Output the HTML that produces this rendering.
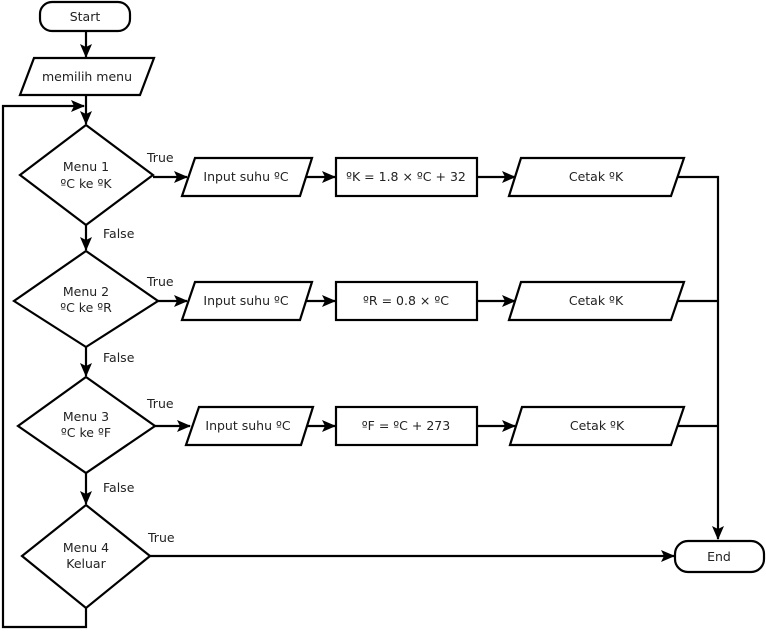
<!DOCTYPE html>
<html><head><meta charset="utf-8"><style>
html,body{margin:0;padding:0;background:#fff}
svg{display:block}
</style></head><body>
<svg width="766" height="632" viewBox="0 0 766 632" xmlns="http://www.w3.org/2000/svg">
<defs><marker id="a" markerWidth="14" markerHeight="12" refX="13" refY="6" orient="auto" markerUnits="userSpaceOnUse"><path d="M0,0 L14,6 L0,12 L3,6 Z" fill="#000" stroke="none"/></marker></defs>
<g fill="none" stroke="#000" stroke-width="2.2" style="stroke-width:2.2px">
<rect x="40" y="2" width="90" height="29" rx="12"/>
<line x1="86" y1="31" x2="86" y2="57" marker-end="url(#a)"/>
<polygon points="20,95 34,58 154,58 140,95" fill="#fff"/>
<line x1="86" y1="95" x2="86" y2="124" marker-end="url(#a)"/>
<polyline points="86,608 86,627 3,627 3,106 84,106" marker-end="url(#a)"/>
<polygon points="86,125 153,175 86,225 20,175"/>
<polygon points="86,251 158,301 86,347 14,301"/>
<polygon points="86,377 155,426 86,473 18,426"/>
<polygon points="86,505 150,556 86,608 22,556"/>
<line x1="86" y1="225" x2="86" y2="250" marker-end="url(#a)"/>
<line x1="86" y1="347" x2="86" y2="376" marker-end="url(#a)"/>
<line x1="86" y1="473" x2="86" y2="504" marker-end="url(#a)"/>
<line x1="153" y1="177" x2="187" y2="177" marker-end="url(#a)"/>
<polygon points="182,196 195,158 312,158 300,196"/>
<line x1="306" y1="177" x2="335" y2="177" marker-end="url(#a)"/>
<rect x="336" y="158" width="141" height="38"/>
<line x1="477" y1="177" x2="515" y2="177" marker-end="url(#a)"/>
<polygon points="509,196 521,158 684,158 671,196"/>
<line x1="158" y1="301" x2="187" y2="301" marker-end="url(#a)"/>
<polygon points="182,320 195,282 312,282 300,320"/>
<line x1="306" y1="301" x2="335" y2="301" marker-end="url(#a)"/>
<rect x="336" y="282" width="141" height="38"/>
<line x1="477" y1="301" x2="515" y2="301" marker-end="url(#a)"/>
<polygon points="509,320 521,282 684,282 671,320"/>
<line x1="155" y1="426" x2="190" y2="426" marker-end="url(#a)"/>
<polygon points="186,445 199,407 313,407 301,445"/>
<line x1="307" y1="426" x2="335" y2="426" marker-end="url(#a)"/>
<rect x="336" y="407" width="141" height="38"/>
<line x1="477" y1="426" x2="515" y2="426" marker-end="url(#a)"/>
<polygon points="510,445 522,407 684,407 671,445"/>
<polyline points="677,177 718,177 718,539" marker-end="url(#a)"/>
<line x1="677" y1="301" x2="718" y2="301"/>
<line x1="678" y1="426" x2="718" y2="426"/>
<line x1="150" y1="556" x2="674" y2="556" marker-end="url(#a)"/>
<rect x="675" y="541" width="89" height="31" rx="13"/>
</g>
<g font-family="DejaVu Sans, Liberation Sans, sans-serif" font-size="12.5" style="font-size:12.5px" fill="#222">
<g text-anchor="middle">
<text x="85" y="21">Start</text>
<text x="87" y="81">memilih menu</text>
<text x="86" y="171">Menu 1</text><text x="86" y="188">ºC ke ºK</text>
<text x="86" y="296">Menu 2</text><text x="86" y="312">ºC ke ºR</text>
<text x="86" y="421">Menu 3</text><text x="86" y="437">ºC ke ºF</text>
<text x="86" y="552">Menu 4</text><text x="86" y="568">Keluar</text>
<text x="246" y="181">Input suhu ºC</text>
<text x="246" y="305">Input suhu ºC</text>
<text x="248" y="430">Input suhu ºC</text>
<text x="406" y="181">ºK = 1.8 × ºC + 32</text>
<text x="406" y="305">ºR = 0.8 × ºC</text>
<text x="406" y="430">ºF = ºC + 273</text>
<text x="596" y="181">Cetak ºK</text>
<text x="596" y="305">Cetak ºK</text>
<text x="597" y="430">Cetak ºK</text>
<text x="719" y="561">End</text>
</g>
<text x="147" y="162">True</text>
<text x="147" y="286">True</text>
<text x="147" y="408">True</text>
<text x="148" y="542">True</text>
<text x="103" y="238">False</text>
<text x="103" y="362">False</text>
<text x="103" y="492">False</text>
</g>
</svg>
</body></html>
